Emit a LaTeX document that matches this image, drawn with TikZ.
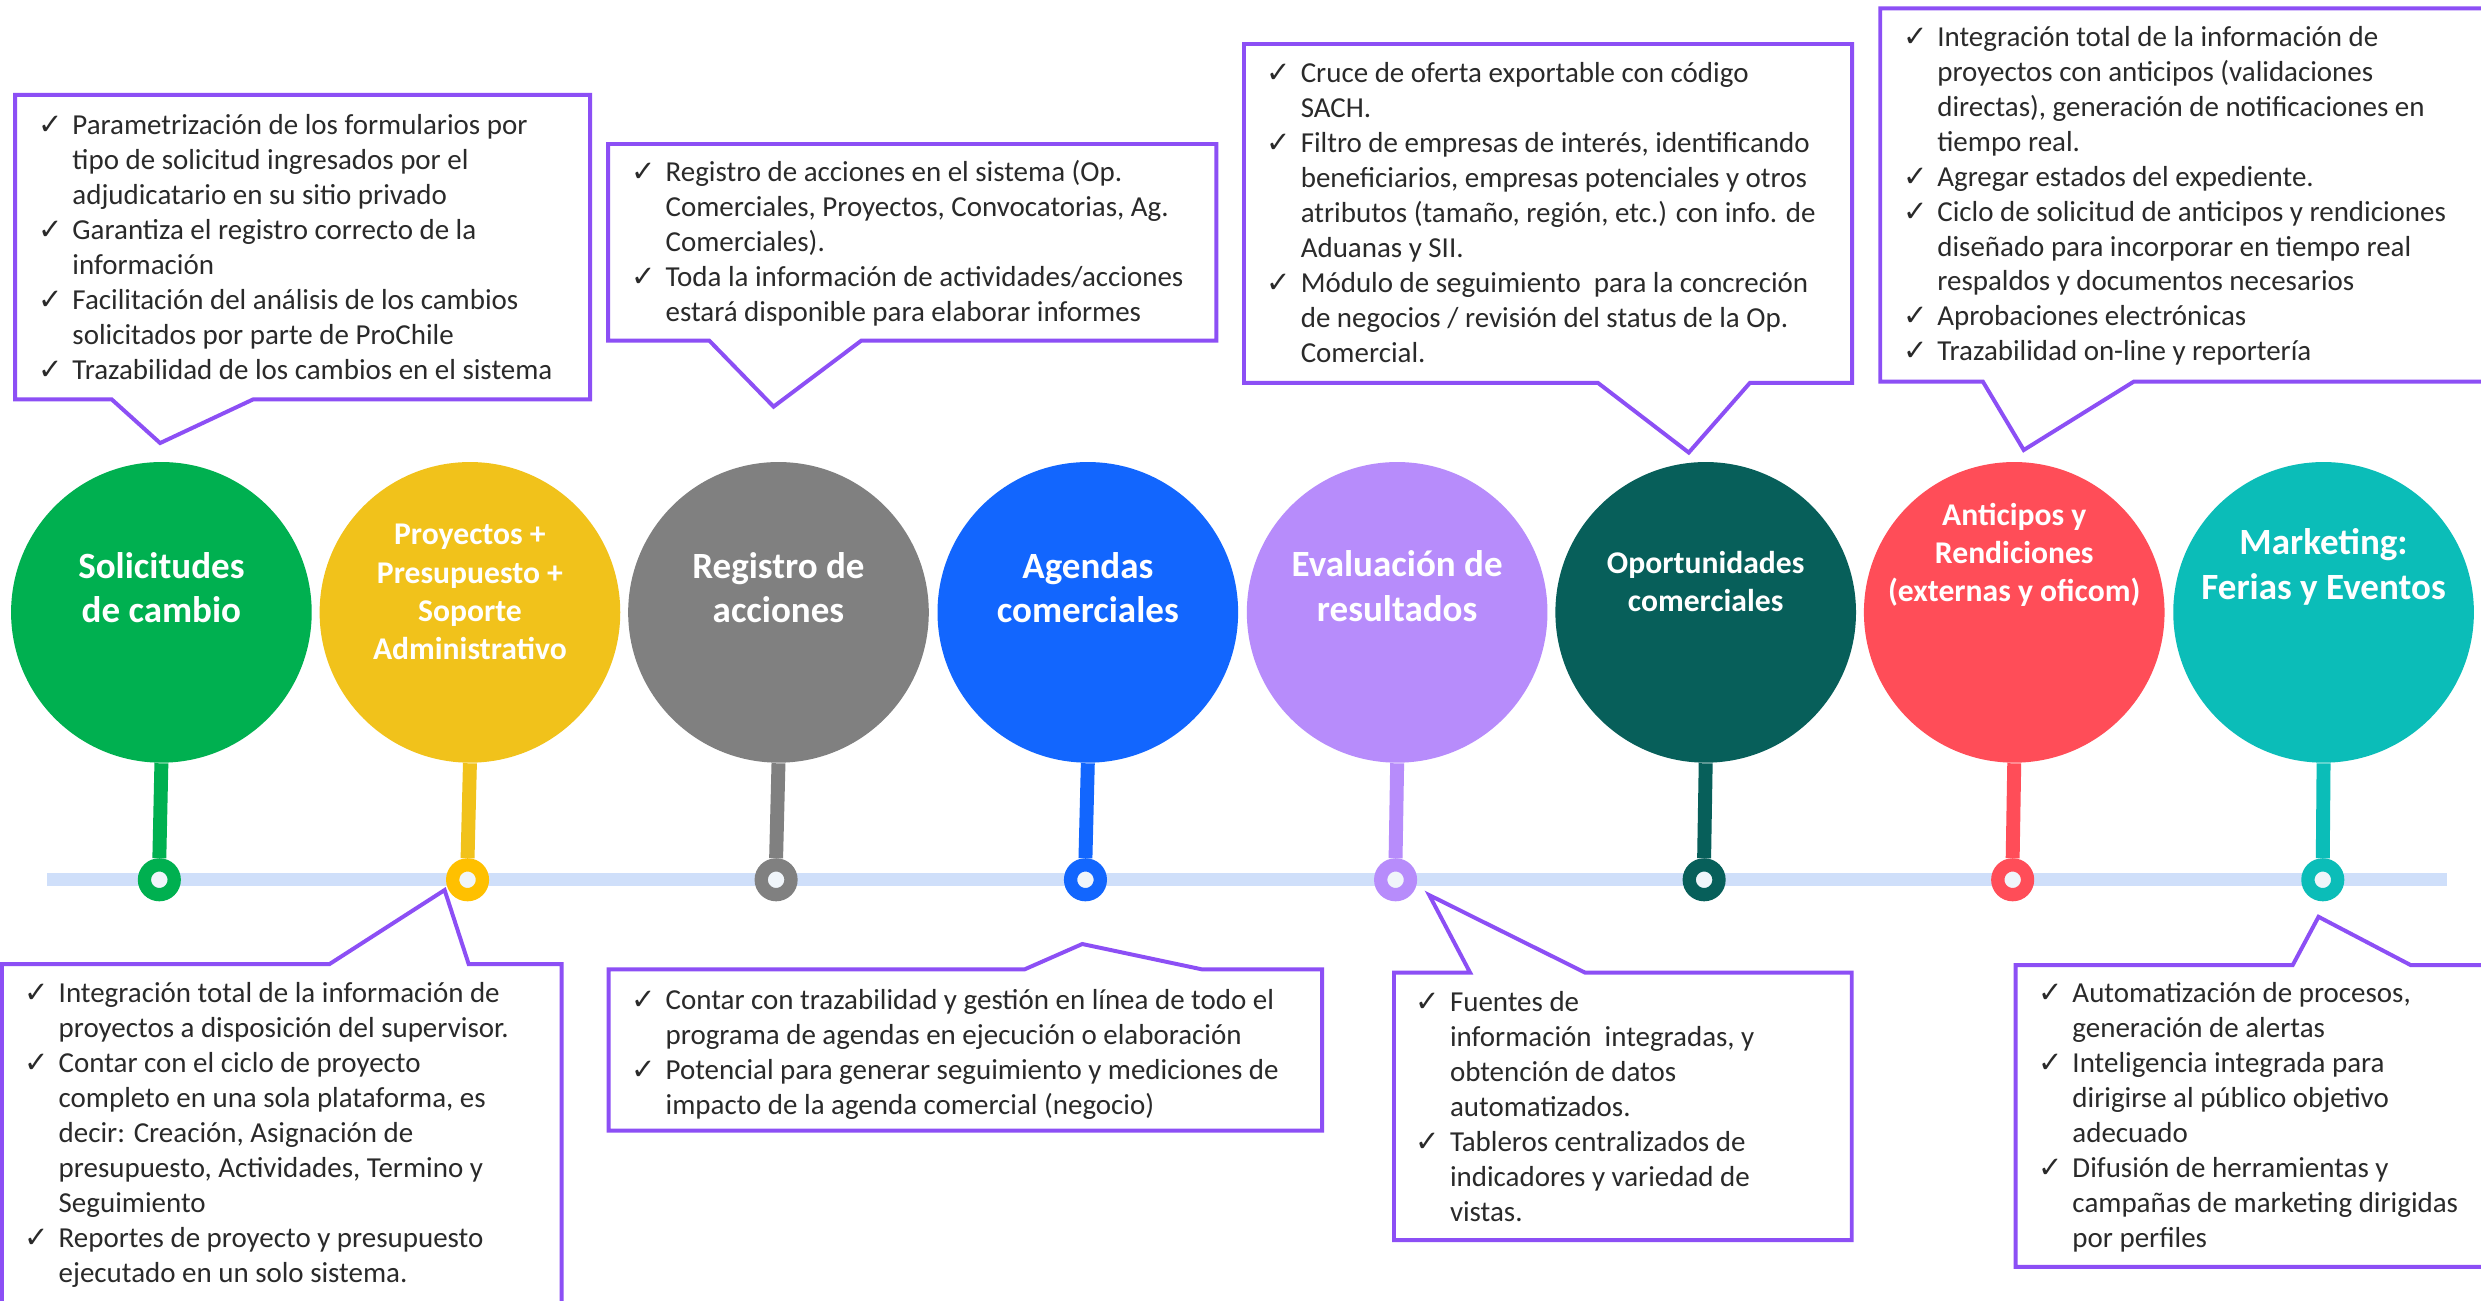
\documentclass[tikz,border=0pt]{standalone}
\usepackage{fontspec}
\setmainfont{Carlito}
\newfontfamily\symfont{DejaVu Sans}
\definecolor{purp}{HTML}{8C4FF5}
\definecolor{txt}{HTML}{2A2A2A}
\definecolor{barc}{HTML}{CFDFFA}
\definecolor{dotin}{HTML}{F0F5FA}
\definecolor{cA}{HTML}{00B050}
\definecolor{cB}{HTML}{F1C21B}
\definecolor{cBd}{HTML}{FFC000}
\definecolor{cC}{HTML}{808080}
\definecolor{cD}{HTML}{1266FE}
\definecolor{cE}{HTML}{B78CFB}
\definecolor{cF}{HTML}{075F5A}
\definecolor{cG}{HTML}{FF4D58}
\definecolor{cH}{HTML}{0BBDB8}
\newcommand{\ck}{\makebox[10.85pt][l]{\symfont\fontsize{9.2pt}{9.2pt}\selectfont ✓}}
\newcommand{\bul}[1]{\begin{tabular}[t]{@{}l@{}l@{}}#1\end{tabular}}
\newcommand{\lbl}[1]{\begin{tabular}[t]{@{}c@{}}#1\end{tabular}}
\tikzset{
  callout/.style={draw=purp, line width=1.25pt, fill=white, line join=miter},
  boxtext/.style={anchor=base west, inner sep=0pt, text=txt, font=\fontsize{9.15pt}{11.05pt}\selectfont},
  bubble/.style={circle, minimum size=95pt, inner sep=0pt, draw=none, fill=#1},
  bigl/.style={anchor=base, inner sep=0pt, text=white, font=\fontsize{11.7pt}{14.15pt}\selectfont\bfseries},
  smalll/.style={anchor=base, inner sep=0pt, text=white, font=\fontsize{10pt}{12.1pt}\selectfont\bfseries},
  stem/.style={line width=4.4pt, draw=#1},
  ring/.style={circle, minimum size=9.4pt, inner sep=0pt, line width=4.2pt, draw=#1, fill=dotin},
  track/.style={line width=4pt, draw=barc},
}
\begin{document}
\begin{tikzpicture}[x=0.5pt, y=-0.5pt]
\useasboundingbox[fill=white] (0,0) rectangle (1568,821.6);

% timeline track
\coordinate (tL) at (30,556);
\coordinate (tR) at (1546.6,556);
\draw[track] (tL) -- (tR);

% bubbles
\node[bubble=cA] (c1) at (102,387) {};
\node[bubble=cB] (c2) at (297,387) {};
\node[bubble=cC] (c3) at (492,387) {};
\node[bubble=cD] (c4) at (687.5,387) {};
\node[bubble=cE] (c5) at (883,387) {};
\node[bubble=cF] (c6) at (1078,387) {};
\node[bubble=cG] (c7) at (1273,387) {};
\node[bubble=cH] (c8) at (1468.5,387) {};

% rings on the track
\node[ring=cA] (d1) at (100.7,556) {};
\node[ring=cBd] (d2) at (295.5,556) {};
\node[ring=cC] (d3) at (490.5,556) {};
\node[ring=cD] (d4) at (686,556) {};
\node[ring=cE] (d5) at (882,556) {};
\node[ring=cF] (d6) at (1077,556) {};
\node[ring=cG] (d7) at (1272,556) {};
\node[ring=cH] (d8) at (1468,556) {};

% stems
\draw[stem=cA] (c1.south) -- (d1.north);
\draw[stem=cB] (c2.south) -- (d2.north);
\draw[stem=cC] (c3.south) -- (d3.north);
\draw[stem=cD] (c4.south) -- (d4.north);
\draw[stem=cE] (c5.south) -- (d5.north);
\draw[stem=cF] (c6.south) -- (d6.north);
\draw[stem=cG] (c7.south) -- (d7.north);
\draw[stem=cH] (c8.south) -- (d8.north);

% bubble labels
\node[bigl] (l1) at (102,365.3) {\lbl{Solicitudes\\de cambio}};
\node[smalll] (l2) at (297,344.4) {\lbl{Proyectos +\\Presupuesto +\\Soporte\\Administrativo}};
\node[bigl] (l3) at (492,365.3) {\lbl{Registro de\\acciones}};
\node[bigl] (l4) at (687.5,365.3) {\lbl{Agendas\\comerciales}};
\node[bigl] (l5) at (883,364.6) {\lbl{Evaluación de\\resultados}};
\node[smalll] (l6) at (1078,362.4) {\lbl{Oportunidades\\comerciales}};
\node[smalll] (l7) at (1273,331.9) {\lbl{Anticipos y\\Rendiciones\\(externas y oficom)}};
\node[bigl] (l8) at (1468.5,350.3) {\lbl{Marketing:\\Ferias y Eventos}};

% callouts above
\draw[callout] (9.5,60) -- (373,60) -- (373,252.4) -- (160,252.4) -- (101.2,280) -- (70.6,252.4) -- (9.5,252.4) -- cycle;
\draw[callout] (384.3,91) -- (768.7,91) -- (768.7,215.3) -- (544.3,215.3) -- (488.9,257) -- (448.3,215.3) -- (384.3,215.3) -- cycle;
\draw[callout] (786.2,27.8) -- (1170.5,27.8) -- (1170.5,241.9) -- (1106,241.9) -- (1067.3,286) -- (1009.8,241.9) -- (786.2,241.9) -- cycle;
\draw[callout] (1188.3,5.3) -- (1585,5.3) -- (1585,241.2) -- (1348.5,241.2) -- (1279,284.4) -- (1253.2,241.2) -- (1188.3,241.2) -- cycle;

% callouts below
\draw[callout] (1.2,609.3) -- (208.2,609.3) -- (281,562.5) -- (296.2,609.3) -- (355,609.3) -- (355,835) -- (1.2,835) -- cycle;
\draw[callout] (384.6,612.6) -- (647.6,612.6) -- (684,596.6) -- (759.5,612.6) -- (835.6,612.6) -- (835.6,714.6) -- (384.6,714.6) -- cycle;
\draw[callout] (881,614.7) -- (929.1,614.7) -- (903.3,565.7) -- (1001.8,614.7) -- (1170.3,614.7) -- (1170.3,783.7) -- (881,783.7) -- cycle;
\draw[callout] (1273.8,609.9) -- (1449,609.9) -- (1465.3,579.4) -- (1523.5,609.9) -- (1585,609.9) -- (1585,800.6) -- (1273.8,800.6) -- cycle;

% texts
\node[boxtext] (tA) at (23.7,85) {\bul{%
\ck & Parametrización de los formularios por\\
 & tipo de solicitud ingresados por el\\
 & adjudicatario en su sitio privado\\
\ck & Garantiza el registro correcto de la\\
 & información\\
\ck & Facilitación del análisis de los cambios\\
 & solicitados por parte de ProChile\\
\ck & Trazabilidad de los cambios en el sistema}};

\node[boxtext] (tB) at (15,633.7) {\bul{%
\ck & Integración total de la información de\\
 & proyectos a disposición del supervisor.\\
\ck & Contar con el ciclo de proyecto\\
 & completo en una sola plataforma, es\\
 & decir: Creación, Asignación de\\
 & presupuesto, Actividades, Termino y\\
 & Seguimiento\\
\ck & Reportes de proyecto y presupuesto\\
 & ejecutado en un solo sistema.}};

\node[boxtext] (tC) at (398.6,114.5) {\bul{%
\ck & Registro de acciones en el sistema (Op.\\
 & Comerciales, Proyectos, Convocatorias, Ag.\\
 & Comerciales).\\
\ck & Toda la información de actividades/acciones\\
 & estará disponible para elaborar informes}};

\node[boxtext] (tD) at (398.6,638) {\bul{%
\ck & Contar con trazabilidad y gestión en línea de todo el\\
 & programa de agendas en ejecución o elaboración\\
\ck & Potencial para generar seguimiento y mediciones de\\
 & impacto de la agenda comercial (negocio)}};

\node[boxtext] (tE) at (800,52.3) {\bul{%
\ck & Cruce de oferta exportable con código\\
 & SACH.\\
\ck & Filtro de empresas de interés, identificando\\
 & beneficiarios, empresas potenciales y otros\\
 & atributos (tamaño, región, etc.) con info. de\\
 & Aduanas y SII.\\
\ck & Módulo de seguimiento\ \ para la concreción\\
 & de negocios / revisión del status de la Op.\\
 & Comercial.}};

\node[boxtext] (tF) at (1202.3,29.2) {\bul{%
\ck & Integración total de la información de\\
 & proyectos con anticipos (validaciones\\
 & directas), generación de notificaciones en\\
 & tiempo real.\\
\ck & Agregar estados del expediente.\\
\ck & Ciclo de solicitud de anticipos y rendiciones\\
 & diseñado para incorporar en tiempo real\\
 & respaldos y documentos necesarios\\
\ck & Aprobaciones electrónicas\\
\ck & Trazabilidad on-line y reportería}};

\node[boxtext] (tG) at (894.3,639.1) {\bul{%
\ck & Fuentes de\\
 & información\ \ integradas, y\\
 & obtención de datos\\
 & automatizados.\\
\ck & Tableros centralizados de\\
 & indicadores y variedad de\\
 & vistas.}};

\node[boxtext] (tH) at (1287.7,633.8) {\bul{%
\ck & Automatización de procesos,\\
 & generación de alertas\\
\ck & Inteligencia integrada para\\
 & dirigirse al público objetivo\\
 & adecuado\\
\ck & Difusión de herramientas y\\
 & campañas de marketing dirigidas\\
 & por perfiles}};
\end{tikzpicture}
\end{document}
